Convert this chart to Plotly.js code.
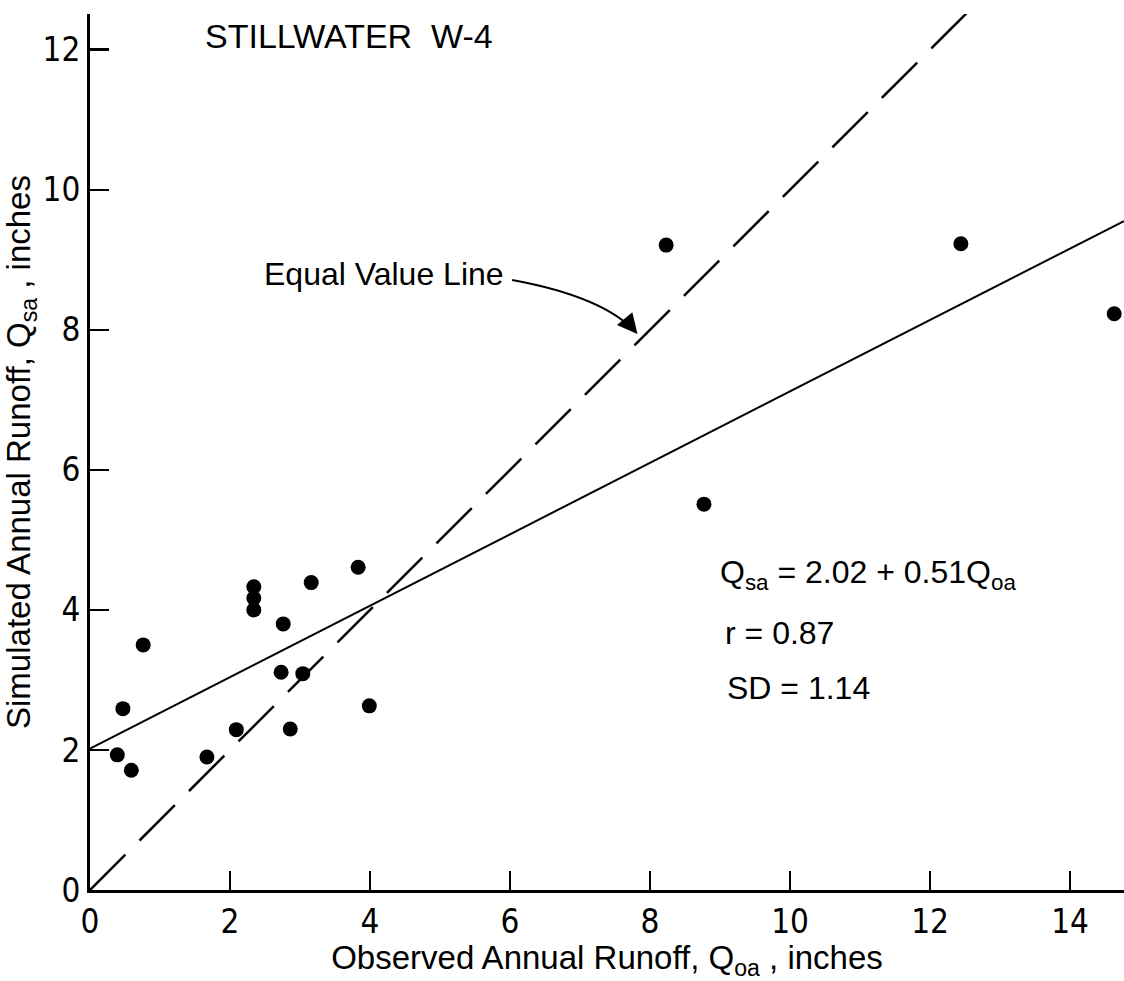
<!DOCTYPE html>
<html>
<head>
<meta charset="utf-8">
<script src="https://cdn.plot.ly/plotly-3.0.1.min.js"></script>
<style>
  html, body { margin: 0; padding: 0; background: #ffffff; }
  #chart { width: 1124px; height: 981px; }
</style>
</head>
<body>
<div id="chart"></div>
<script>
// Observed vs simulated annual runoff (inches), Stillwater watershed W-4
const observedRunoff = [0.39, 0.47, 0.59, 0.76, 1.67, 2.09, 2.34, 2.34, 2.34, 2.76, 2.73, 3.04,
                        2.86, 3.16, 3.83, 3.99, 8.23, 8.77, 12.44, 14.63];
const simulatedRunoff = [1.93, 2.59, 1.71, 3.50, 1.90, 2.29, 4.33, 4.17, 4.00, 3.80, 3.11, 3.09,
                         2.30, 4.39, 4.61, 2.63, 9.21, 5.51, 9.23, 8.23];

// Regression coefficients and fit statistics
const fitIntercept = 2.02;
const fitSlope = 0.51;
const fitR = 0.87;
const fitSD = 1.14;

// Axis extents and ticks
const xMax = 14.77;
const yMax = 12.51;
const xTicks = [0, 2, 4, 6, 8, 10, 12, 14];
const yTicks = [0, 2, 4, 6, 8, 10, 12];

const FONT = 'Liberation Sans, Arial, sans-serif';
const TICK_FONT = 'Liberation Sans Narrow, DejaVu Sans Condensed, Liberation Sans, sans-serif';

const fitX = [0, xMax];
const fitY = fitX.map(v => fitIntercept + fitSlope * v);
const equalX = [0, 13];
const equalY = [0, 13];

const traces = [
  {
    x: equalX, y: equalY, type: 'scatter', mode: 'lines',
    line: { color: '#000', width: 2.5, dash: '50px,20px' },
    hoverinfo: 'skip'
  },
  {
    x: fitX, y: fitY, type: 'scatter', mode: 'lines',
    line: { color: '#000', width: 2 },
    hoverinfo: 'skip'
  },
  {
    x: observedRunoff, y: simulatedRunoff, type: 'scatter', mode: 'markers',
    marker: { color: '#000', size: 15 },
    cliponaxis: false
  }
];

const axisCommon = {
  showgrid: false, zeroline: false,
  showline: true, linecolor: '#000', linewidth: 3,
  ticks: 'inside', ticklen: 19, tickwidth: 2.5, tickcolor: '#000',
  tickfont: { family: TICK_FONT, size: 33, color: '#000' },
  tickmode: 'array', fixedrange: true
};

const layout = {
  width: 1124, height: 981,
  margin: { l: 90, r: 0, t: 14, b: 91 },
  paper_bgcolor: '#fff', plot_bgcolor: '#fff',
  showlegend: false,
  font: { family: FONT, color: '#000' },
  title: {
    text: 'STILLWATER&nbsp;&nbsp;W-4',
    font: { family: FONT, size: 34, color: '#000' },
    xref: 'container', yref: 'container',
    x: 205 / 1124, xanchor: 'left',
    y: 1 - 36 / 981, yanchor: 'middle'
  },
  xaxis: Object.assign({}, axisCommon, {
    range: [0, xMax], tickvals: xTicks, ticktext: xTicks.map(String),
    title: {
      text: 'Observed Annual Runoff, Q<sub>oa</sub> , inches',
      font: { family: FONT, size: 33, color: '#000' },
      standoff: 6
    }
  }),
  yaxis: Object.assign({}, axisCommon, {
    range: [0, yMax], tickvals: yTicks, ticktext: yTicks.map(String),
    title: {
      text: 'Simulated Annual Runoff, Q<sub>sa</sub> , inches',
      font: { family: FONT, size: 33, color: '#000' },
      standoff: 4
    }
  }),
  shapes: [
    {
      // curved leader from the label to the equal value line
      type: 'path', xref: 'x', yref: 'y',
      path: 'M 6.03,8.71 Q 7.34,8.47 7.80,7.96',
      line: { color: '#000', width: 2 }
    }
  ],
  annotations: [
    {
      x: 2.46, y: 8.79, xref: 'x', yref: 'y', xanchor: 'left', yanchor: 'middle',
      text: 'Equal Value Line', showarrow: false,
      font: { family: FONT, size: 32, color: '#000' }
    },
    {
      x: 7.82, y: 7.94, xref: 'x', yref: 'y', text: '',
      showarrow: true, arrowhead: 2, arrowsize: 2, arrowwidth: 2, arrowcolor: '#000',
      ax: -10, ay: -12, standoff: 0
    },
    {
      x: 8.97, y: 4.50, xref: 'x', yref: 'y', xanchor: 'left', yanchor: 'middle',
      text: 'Q<sub>sa</sub> = ' + fitIntercept.toFixed(2) + ' + ' + fitSlope.toFixed(2) + 'Q<sub>oa</sub>',
      showarrow: false, font: { family: FONT, size: 32, color: '#000' }
    },
    {
      x: 9.04, y: 3.67, xref: 'x', yref: 'y', xanchor: 'left', yanchor: 'middle',
      text: 'r = ' + fitR.toFixed(2),
      showarrow: false, font: { family: FONT, size: 32, color: '#000' }
    },
    {
      x: 9.07, y: 2.89, xref: 'x', yref: 'y', xanchor: 'left', yanchor: 'middle',
      text: 'SD = ' + fitSD.toFixed(2),
      showarrow: false, font: { family: FONT, size: 32, color: '#000' }
    }
  ]
};

Plotly.newPlot('chart', traces, layout, { displayModeBar: false, staticPlot: true });
</script>
</body>
</html>
